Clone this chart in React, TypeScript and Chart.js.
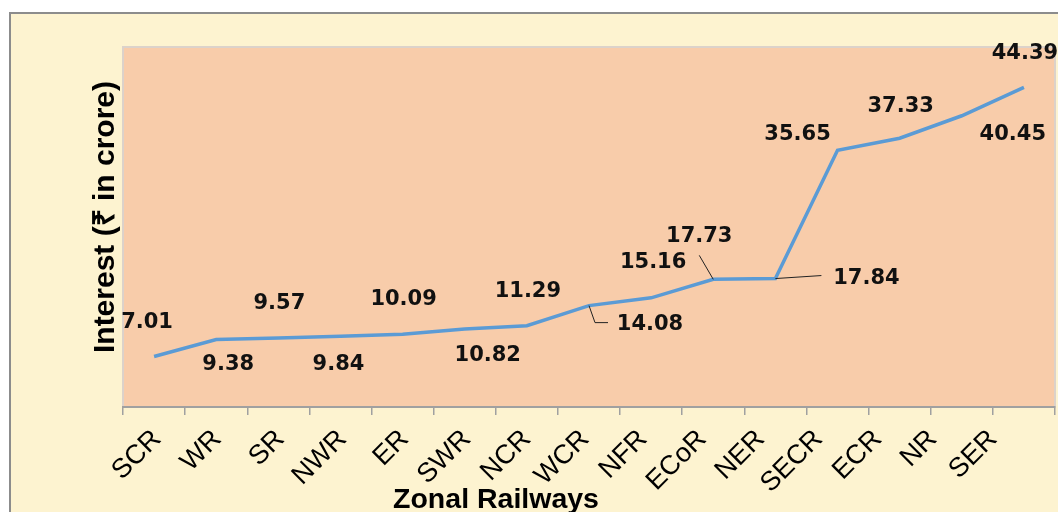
import React, { useEffect, useRef } from "react";
import { Chart, registerables } from "chart.js";
Chart.register(...registerables);

const categories = ["SCR", "WR", "SR", "NWR", "ER", "SWR", "NCR", "WCR", "NFR", "ECoR", "NER", "SECR", "ECR", "NR", "SER"];
const interest = [7.01, 9.38, 9.57, 9.84, 10.09, 10.82, 11.29, 14.08, 15.16, 17.73, 17.84, 35.65, 37.33, 40.45, 44.39];
const valueLabels = ["7.01", "9.38", "9.57", "9.84", "10.09", "10.82", "11.29", "14.08", "15.16", "17.73", "17.84", "35.65", "37.33", "40.45", "44.39"];
const yTitle = "Interest (₹ in crore)";
const xTitle = "Zonal Railways";

// layout only: label offsets from their point, and category-label nudges
const labelOffsets: number[][] = [
  [-7, -34], [12, 25], [1, -35], [-2, 28], [1, -35], [23, 26], [1, -34],
  [61, 19], [2, -35], [-14, -43], [91, 0], [-40, -16], [1, -32], [51, 19], [1, -34],
];
const leaderLines: Record<number, number[][]> = {
  7: [[6, 17], [19, 17]],
  9: [[-14, -24]],
  10: [[46, -3]],
};
const tickLabelNudge = [3, 1, 2, 2, 2, 2, 0, -4, -8, -11, -15, -19, -22, -29, -31];

const CREAM = "#FDF3D0";
const PEACH = "#F8CCAA";
const LINE = "#5B9BD5";

const bgPlugin = {
  id: "bgPlugin",
  beforeDraw(chart: any) {
    const { ctx, chartArea } = chart;
    ctx.save();
    ctx.fillStyle = "#ffffff";
    ctx.fillRect(0, 0, chart.width, chart.height);
    ctx.fillStyle = CREAM;
    ctx.fillRect(10, 13, chart.width + 20, chart.height + 20);
    ctx.strokeStyle = "#8c8c8c";
    ctx.lineWidth = 2;
    ctx.strokeRect(10, 13, chart.width + 20, chart.height + 20);
    ctx.fillStyle = PEACH;
    ctx.fillRect(chartArea.left, chartArea.top, chartArea.right - chartArea.left, chartArea.bottom - chartArea.top);
    ctx.strokeStyle = "#DCD2CA";
    ctx.lineWidth = 2;
    ctx.strokeRect(chartArea.left, chartArea.top, chartArea.right - chartArea.left, chartArea.bottom - chartArea.top);
    ctx.restore();
  },
};

const labelPlugin = {
  id: "labelPlugin",
  afterDatasetsDraw(chart: any) {
    const { ctx } = chart;
    const meta = chart.getDatasetMeta(0);
    const xScale = chart.scales.x;
    ctx.save();
    ctx.strokeStyle = "#222";
    ctx.lineWidth = 1;
    Object.keys(leaderLines).forEach((k) => {
      const i = Number(k);
      const p = meta.data[i];
      ctx.beginPath();
      ctx.moveTo(p.x, p.y);
      leaderLines[i].forEach(([dx, dy]) => ctx.lineTo(p.x + dx, p.y + dy));
      ctx.stroke();
    });
    ctx.fillStyle = "#111";
    ctx.font = "bold 21px 'DejaVu Sans'";
    ctx.textAlign = "center";
    ctx.textBaseline = "middle";
    meta.data.forEach((p: any, i: number) => {
      const [dx, dy] = labelOffsets[i];
      ctx.fillText(valueLabels[i], p.x + dx, p.y + dy);
    });
    // category labels
    ctx.fillStyle = "#000";
    ctx.font = "27px 'Liberation Sans'";
    ctx.textAlign = "right";
    ctx.textBaseline = "middle";
    categories.forEach((c, i) => {
      const x = xScale.getPixelForTick(i) + tickLabelNudge[i];
      ctx.save();
      ctx.translate(x, xScale.top + 28);
      ctx.rotate(-Math.PI / 4);
      ctx.fillText(c, 0, 0);
      ctx.restore();
    });
    // titles
    ctx.font = "bold 28.5px 'Liberation Sans'";
    ctx.textAlign = "center";
    ctx.textBaseline = "alphabetic";
    ctx.fillText(xTitle, 496, 508);
    ctx.font = "bold 30px 'Liberation Sans'";
    ctx.translate(114, 217);
    ctx.rotate(-Math.PI / 2);
    ctx.fillText(yTitle, 0, 0);
    ctx.restore();
  },
};

export default function App() {
  const ref = useRef<HTMLCanvasElement>(null);
  useEffect(() => {
    document.body.style.margin = "0";
    const chart = new Chart(ref.current!, {
      type: "line",
      data: {
        labels: categories,
        datasets: [
          {
            data: interest,
            borderColor: LINE,
            borderWidth: 3.5,
            pointRadius: 0,
            tension: 0,
            fill: false,
          },
        ],
      },
      options: {
        animation: false,
        responsive: false,
        devicePixelRatio: 1,
        layout: { padding: { left: 123, top: 47, right: 3, bottom: 0 } },
        plugins: { legend: { display: false }, tooltip: { enabled: false } },
        scales: {
          y: { display: false, min: 0, max: 50 },
          x: {
            offset: true,
            grid: { offset: true, drawOnChartArea: false, drawTicks: true, tickLength: 8, color: "#a0a0a0", lineWidth: 1.5 },
            border: { color: "#a0a0a0", width: 2 },
            ticks: { display: false },
            afterFit: (s: any) => {
              s.height = 105;
              s.paddingLeft = 0;
              s.paddingRight = 0;
            },
          },
        },
      },
      plugins: [bgPlugin, labelPlugin],
    });
    return () => chart.destroy();
  }, []);
  return <canvas ref={ref} width={1058} height={512} />;
}
